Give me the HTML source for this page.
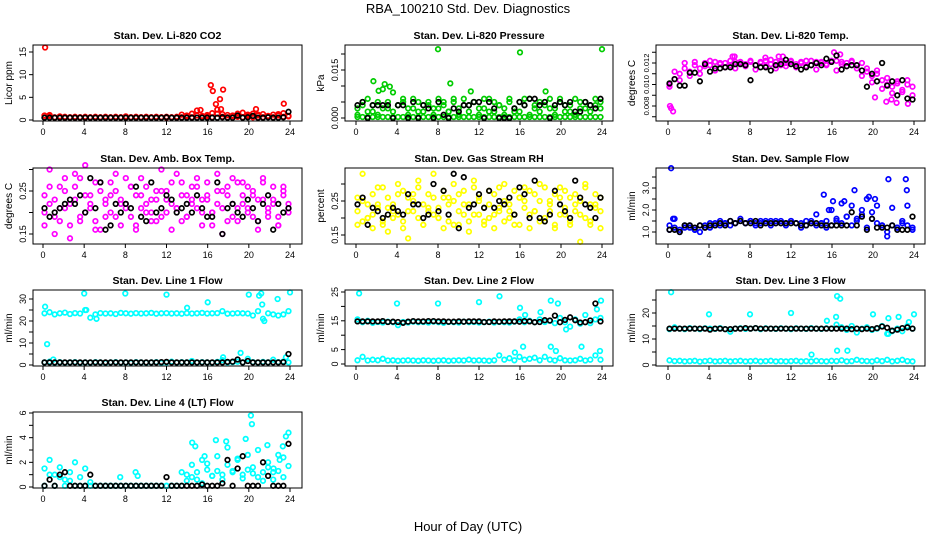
<!DOCTYPE html>
<html><head><meta charset="utf-8">
<style>
html,body{margin:0;padding:0;background:#fff;}
svg{display:block;font-family:"Liberation Sans",sans-serif;}
</style></head>
<body>
<svg id="chart" width="936" height="540" viewBox="0 0 936 540" xmlns="http://www.w3.org/2000/svg">
<rect x="0" y="0" width="936" height="540" fill="#fff"/>
<text x="468" y="13" text-anchor="middle" font-size="13">RBA_100210  Std. Dev. Diagnostics</text>
<text x="468" y="531" text-anchor="middle" font-size="13">Hour of Day (UTC)</text>
</svg>
<script>
// ---- data ----
const xTicks = [0,4,8,12,16,20,24];

// P1 CO2
const co2Red = [1.0,0.9,0.6,0.8,0.7,0.6,0.7,0.6,0.7,0.6,0.7,0.6,0.7,0.6,0.7,0.6,0.8,0.6,0.7,0.6,0.7,0.6,0.7,0.6,0.7,0.6,0.7,0.6,1.0,1.4,2.1,0.9,1.1,1.5,2.3,1.3,1.1,0.9,1.4,1.6,1.2,1.4,1.0,1.3,0.8,1.2,1.0,1.5,0.9];
const co2RedB = [0.6,1.1,0.5,0.6,0.5,0.6,0.5,0.6,0.5,0.6,0.5,0.6,0.5,0.6,0.5,0.6,0.5,0.6,0.5,0.6,0.5,0.6,0.5,0.6,0.5,0.6,0.5,1.2,0.7,0.6,1.0,0.6,0.8,0.6,1.4,0.7,0.6,1.0,0.7,0.6,0.9,0.6,1.2,0.6,0.9,0.6,1.3,0.7,0.8];
const co2OutH = [0.2,16.3,16.5,16.8,17.2,17.5,17.3,20.7,23.4,15.3];
const co2OutV = [16,7.7,6.4,3.5,4.6,6.7,2.4,2.4,3.6,2.2];
const co2Black = [0.5,0.5,0.5,0.5,0.5,0.5,0.5,0.5,0.5,0.5,0.5,0.5,0.5,0.5,0.5,0.5,0.5,0.5,0.5,0.5,0.5,0.5,0.5,0.5,0.6,0.5,0.5,0.5,0.5,0.5,0.5,0.5,0.5,0.5,0.5,0.6,0.5,0.5,1.0,0.5,0.6,0.9,0.5,0.5,0.6,0.5,0.5,0.6,1.8];

// P2 pressure
const presGreen = [0.003,0.004,0.006,0.002,0.005,0.009,0.003,0.008,0.004,0.005,0.003,0.006,0.002,0.004,0.005,0.003,0.006,0.004,0.002,0.005,0.003,0.006,0.004,0.005,0.003,0.006,0.002,0.005,0.004,0.003,0.006,0.002,0.005,0.004,0.006,0.003,0.005,0.004,0.006,0.003,0.005,0.004,0.002,0.006,0.003,0.005,0.004,0.006,0.003];
const presGreenB = [0.0003,0.0003,0.0003,0.0003,0.0003,0.0003,0.0003,0.0003,0.0003,0.0003,0.0003,0.0003,0.0003,0.0003,0.0003,0.0003,0.0003,0.0003,0.0003,0.0003,0.0003,0.0003,0.0003,0.0003,0.0003,0.0003,0.0003,0.0003,0.0003,0.0003,0.0003,0.0003,0.0003,0.0003,0.0003,0.0003,0.0003,0.0003,0.0003,0.0003,0.0003,0.0003,0.0003,0.0003,0.0003,0.0003,0.0003,0.0003,0.0003];
const presGreenC = [0.001,0.005,0.002,0.004,0.001,0.003,0.005,0.002,0.004,0.006,0.001,0.003,0.005,0.002,0.004,0.001,0.003,0.005,0.002,0.006,0.001,0.004,0.002,0.005,0.001,0.003,0.006,0.002,0.004,0.001,0.005,0.003,0.002,0.006,0.001,0.004,0.002,0.005,0.003,0.001,0.006,0.002,0.004,0.001,0.005,0.003,0.002,0.004,0.005];
const presOutH = [8,16,24,1.7,2.8,3.3,9.2,2.2,11.2,18.5];
const presOutV = [0.0215,0.0205,0.0215,0.0115,0.0106,0.0098,0.0108,0.0085,0.0083,0.0083];
const presBlack = [0.004,0.005,0.0,0.004,0.004,0.004,0.004,0.0,0.004,0.004,0.0,0.005,0.0,0.004,0.003,0.0,0.005,0.001,0.0,0.003,0.002,0.004,0.004,0.005,0.005,0.0,0.005,0.003,0.0,0.0,0.0,0.003,0.005,0.004,0.006,0.006,0.004,0.005,0.0,0.004,0.005,0.004,0.005,0.002,0.002,0.005,0.004,0.003,0.006];

// P3 temp
const tempMag = [0.0100,0.0105,0.0110,0.0115,0.0112,0.0118,0.0115,0.0120,0.0118,0.0121,0.0119,0.0120,0.0118,0.0121,0.0120,0.0119,0.0121,0.0118,0.0120,0.0122,0.0119,0.0121,0.0118,0.0120,0.0121,0.0119,0.0120,0.0122,0.0118,0.0121,0.0120,0.0119,0.0121,0.0122,0.0119,0.0120,0.0121,0.0118,0.0120,0.0112,0.0108,0.0110,0.0104,0.0100,0.0098,0.0103,0.0095,0.0100,0.0098];
const tempMagB = [0.0098,0.0112,0.0104,0.0120,0.0108,0.0121,0.0110,0.0117,0.0122,0.0113,0.0120,0.0116,0.0122,0.0115,0.0121,0.0117,0.0122,0.0114,0.0121,0.0117,0.0123,0.0115,0.0121,0.0117,0.0122,0.0116,0.0121,0.0117,0.0122,0.0114,0.0121,0.0118,0.0122,0.0113,0.0121,0.0117,0.0122,0.0115,0.0108,0.0115,0.0102,0.0113,0.0096,0.0106,0.0092,0.0101,0.0093,0.0104,0.0090];
const tempOutH = [0.2,0.3,0.5,6.3,6.5,9.5,10.8,11.2,16.2,16.8,21.3,22.3,20.2,23.4,21.8];
const tempOutV = [0.0080,0.0078,0.0075,0.0126,0.0126,0.0125,0.0126,0.0126,0.0130,0.0128,0.0084,0.0083,0.0088,0.0082,0.0086];
const tempBlack = [0.0101,0.0105,0.0099,0.0099,0.0111,0.0111,0.0103,0.0119,0.0112,0.0115,0.0115,0.0116,0.0116,0.0119,0.0119,0.0118,0.0104,0.0118,0.0116,0.0116,0.0113,0.0118,0.0119,0.0123,0.0119,0.0117,0.0114,0.0116,0.0118,0.0120,0.0118,0.0124,0.0121,0.0127,0.0114,0.0117,0.0118,0.0118,0.0113,0.0098,0.0110,0.0103,0.0120,0.0099,0.0103,0.0090,0.0104,0.0087,0.0086];

// P4 ambient box temp
const ambMag = [0.24,0.22,0.19,0.26,0.21,0.17,0.23,0.28,0.20,0.24,0.18,0.25,0.22,0.27,0.19,0.23,0.21,0.26,0.17,0.24,0.22,0.20,0.25,0.19,0.23,0.27,0.21,0.18,0.24,0.22,0.26,0.20,0.23,0.17,0.25,0.21,0.24,0.19,0.27,0.22,0.20,0.25,0.18,0.23,0.21,0.26,0.19,0.24,0.22];
const ambMagB = [0.20,0.26,0.23,0.18,0.25,0.22,0.29,0.19,0.24,0.21,0.27,0.16,0.23,0.20,0.25,0.22,0.28,0.19,0.24,0.21,0.26,0.18,0.23,0.25,0.20,0.22,0.29,0.24,0.19,0.26,0.21,0.23,0.27,0.20,0.22,0.25,0.18,0.28,0.21,0.24,0.26,0.19,0.23,0.27,0.20,0.22,0.17,0.25,0.21];
const ambMagC = [0.17,0.30,0.15,0.21,0.28,0.14,0.26,0.18,0.31,0.22,0.16,0.27,0.19,0.24,0.29,0.17,0.22,0.26,0.16,0.28,0.20,0.23,0.18,0.30,0.25,0.16,0.21,0.27,0.19,0.23,0.28,0.17,0.24,0.20,0.29,0.15,0.26,0.22,0.18,0.27,0.21,0.24,0.16,0.28,0.19,0.23,0.17,0.26,0.20];
const ambBlack = [0.21,0.19,0.20,0.21,0.22,0.23,0.22,0.24,0.20,0.28,0.21,0.27,0.16,0.17,0.22,0.20,0.22,0.21,0.26,0.19,0.18,0.27,0.20,0.21,0.24,0.23,0.20,0.21,0.22,0.20,0.24,0.21,0.19,0.19,0.27,0.15,0.21,0.22,0.20,0.19,0.23,0.21,0.18,0.22,0.24,0.16,0.22,0.20,0.21];

// P5 gas stream RH
const rhYel = [0.22,0.25,0.20,0.27,0.23,0.19,0.26,0.24,0.21,0.28,0.22,0.25,0.20,0.24,0.27,0.21,0.23,0.26,0.19,0.25,0.22,0.28,0.24,0.21,0.26,0.23,0.20,0.27,0.22,0.25,0.24,0.21,0.26,0.23,0.28,0.22,0.25,0.20,0.24,0.27,0.21,0.23,0.26,0.22,0.25,0.20,0.24,0.27,0.22];
const rhYelB = [0.26,0.19,0.24,0.21,0.29,0.18,0.23,0.20,0.27,0.17,0.26,0.22,0.29,0.18,0.23,0.26,0.20,0.28,0.24,0.18,0.27,0.21,0.19,0.29,0.25,0.18,0.24,0.21,0.29,0.19,0.22,0.28,0.18,0.25,0.21,0.27,0.19,0.29,0.22,0.18,0.26,0.28,0.19,0.24,0.21,0.29,0.18,0.23,0.26];
const rhYelC = [0.18,0.33,0.20,0.17,0.24,0.29,0.16,0.22,0.30,0.19,0.14,0.27,0.31,0.18,0.22,0.33,0.20,0.17,0.26,0.30,0.18,0.24,0.16,0.31,0.21,0.19,0.28,0.17,0.23,0.30,0.20,0.18,0.26,0.29,0.17,0.22,0.30,0.19,0.25,0.17,0.29,0.21,0.18,0.27,0.13,0.30,0.19,0.24,0.17];
const rhBlack = [0.24,0.26,0.18,0.23,0.22,0.20,0.21,0.23,0.22,0.21,0.27,0.24,0.24,0.20,0.21,0.30,0.22,0.28,0.21,0.33,0.17,0.32,0.23,0.24,0.27,0.23,0.28,0.23,0.25,0.24,0.26,0.21,0.29,0.27,0.20,0.31,0.20,0.19,0.21,0.28,0.24,0.22,0.20,0.31,0.26,0.24,0.23,0.20,0.26];

// P6 sample flow
const sfBlue = [1.3,1.2,1.1,1.3,1.2,1.1,1.3,1.2,1.4,1.3,1.5,1.4,1.5,1.4,1.5,1.4,1.5,1.4,1.5,1.4,1.5,1.4,1.5,1.4,1.5,1.4,1.4,1.5,1.4,1.3,1.4,1.5,1.3,1.6,1.4,1.7,1.3,1.5,1.8,1.2,1.6,1.4,1.3,1.0,1.3,1.2,1.4,1.3,1.2];
const sfBlueB = [1.1,1.6,1.0,1.2,1.3,1.1,1.0,1.3,1.2,1.4,1.3,1.4,1.3,1.4,1.6,1.4,1.5,1.3,1.4,1.5,1.3,1.5,1.4,1.3,1.5,1.4,1.2,1.3,1.5,1.8,1.4,1.2,2.0,1.5,2.3,1.7,2.2,1.6,2.0,2.5,1.9,2.2,1.3,0.8,2.1,1.2,1.5,2.2,1.1];
const sfOutH = [0.3,21.5,23.2,15.2,18.2,23.3,16.1,17.2,19.6,20.2,0.5,15.7];
const sfOutV = [3.9,3.4,3.4,2.7,2.9,2.9,2.4,2.4,2.6,2.5,1.6,2.0];
const sfBlack = [1.1,1.1,1.0,1.3,1.3,1.2,1.3,1.2,1.3,1.3,1.4,1.3,1.5,1.4,1.5,1.4,1.4,1.5,1.3,1.4,1.4,1.4,1.4,1.4,1.4,1.4,1.3,1.3,1.4,1.4,1.3,1.3,1.3,1.3,1.3,1.3,1.9,1.3,1.7,1.1,1.6,1.2,1.2,1.2,1.3,1.1,1.1,1.1,1.7];

// P7 line 1 flow
const l1Top = [23.5,24.0,23.0,23.5,23.8,23.2,23.6,23.4,25.0,21.5,23.0,23.6,23.4,23.5,23.2,23.7,23.5,23.3,23.6,23.4,23.5,23.7,23.3,23.5,23.6,23.4,23.5,23.3,23.6,23.4,23.5,23.7,23.4,23.5,23.6,24.5,23.3,23.4,23.6,23.5,23.4,22.5,24.5,21.0,23.5,23.0,22.5,23.0,24.5];
const l1Bot = [1.2,1.5,1.0,1.3,1.1,1.2,1.3,1.0,1.2,1.1,1.3,1.2,1.0,1.2,1.3,1.1,1.2,1.0,1.3,1.2,1.1,1.2,1.3,1.0,1.2,1.5,1.1,1.3,1.2,1.8,1.1,1.3,1.2,1.1,1.4,2.2,1.2,1.3,1.5,1.2,2.8,1.3,1.1,1.4,1.2,2.4,1.3,1.6,1.2];
const l1OutH = [0.2,0.4,4,8,12,14,16,20,21,21.2,22.8,24,21.3,21.5,4.2,19.2,17.5,23.6,5.2,1.0];
const l1OutV = [26.5,9.5,32.5,32.5,32,26,28.5,32,31.5,32.5,30,33,27.5,20,25,5.5,3.5,3.5,21,2.5];
const l1Black = [1.2,1.2,1.2,1.2,1.2,1.2,1.2,1.2,1.2,1.2,1.2,1.2,1.2,1.2,1.2,1.2,1.2,1.2,1.2,1.2,1.2,1.2,1.2,1.3,1.4,1.2,1.2,1.2,1.2,1.2,1.2,1.2,1.2,1.2,1.2,1.2,1.4,1.5,2.5,1.2,1.8,1.2,1.2,1.2,1.2,1.2,1.2,1.3,5.0];

// P8 line 2 flow
const l2Top = [15.5,14.5,15.0,14.3,14.6,14.4,14.7,14.5,13.5,14.6,14.4,14.7,14.5,14.6,14.4,14.7,14.5,14.3,14.6,14.5,14.4,14.7,14.5,14.6,14.4,14.5,14.7,14.4,14.6,14.5,14.4,14.7,15.5,14.5,15.0,14.5,15.5,14.6,15.0,14.2,16.0,14.5,13.0,15.5,14.0,17.0,14.2,15.5,16.0];
const l2Bot = [1.3,2.5,1.2,1.5,1.3,1.8,1.2,1.3,1.1,1.2,1.3,1.2,1.1,1.3,1.2,1.1,1.2,1.3,1.1,1.2,1.3,1.2,1.5,1.2,1.3,1.2,1.1,1.3,3.0,1.5,2.0,1.3,2.5,1.5,1.8,2.2,1.3,2.5,1.5,1.2,2.0,1.3,1.2,1.3,1.8,1.2,1.5,3.0,1.5];
const l2OutH = [0.3,4,8,12,14,16,19,19.7,23.9,16.3,19,22,19.5,15.5,20.5,18.0,23.5,16.5,23.8];
const l2OutV = [24.5,21,21,21.5,23.5,19.5,22,21,22,6,6,6,4.5,4,12,18,19,17,4.5];
const l2Black = [14.8,14.8,14.8,14.8,14.8,14.9,14.6,14.7,14.6,14.3,14.7,14.9,14.8,14.8,14.9,14.9,14.8,14.8,14.7,14.7,14.8,14.7,14.8,14.8,14.8,14.6,14.6,14.8,14.7,14.8,14.8,14.8,14.7,14.9,14.8,14.5,14.6,15.2,15.1,16.8,14.5,15.3,16.2,15.2,14.4,14.5,15.1,21.0,14.8];

// P9 line 3 flow
const l3Top = [13.8,14.5,14.0,13.8,14.2,14.0,13.8,14.1,14.0,13.9,14.2,13.8,12.8,14.0,14.1,13.9,14.0,14.2,13.8,14.1,14.0,13.9,14.1,14.0,13.8,14.1,14.0,13.9,14.2,14.0,13.9,14.1,14.0,15.5,14.5,13.5,15.0,12.5,14.0,14.5,13.5,14.0,15.0,12.0,13.0,14.0,13.0,15.0,14.0];
const l3Bot = [1.8,1.5,1.6,1.4,1.5,1.6,1.3,1.5,1.7,1.4,1.5,1.6,1.4,1.5,1.6,1.4,1.5,1.6,1.4,1.5,1.6,1.4,1.5,1.4,1.5,1.6,1.4,1.5,1.4,1.6,1.5,1.4,1.6,1.5,1.8,1.4,1.5,2.0,1.6,1.5,1.4,1.8,1.5,2.0,1.4,1.6,2.0,1.5,1.4];
const l3OutH = [0.3,4,8,12,16.5,16.8,16.4,20,22.5,24,16.5,17.5,14,21.5,15.5,21.5,23.5];
const l3OutV = [28,19.5,19.5,20,26.5,25.5,18.5,19.5,18.5,19.5,5.5,5.5,4,18,17,12,16.5];
const l3Black = [14.0,14.0,14.0,14.0,14.0,14.0,14.0,14.0,13.6,14.0,14.0,13.8,13.8,14.0,14.0,14.2,14.0,14.2,14.0,14.0,14.0,14.0,14.0,14.0,14.0,14.0,14.0,14.0,14.0,14.0,14.0,14.0,14.0,14.0,14.0,14.0,13.8,14.0,13.8,14.0,13.8,14.2,14.8,14.3,13.2,13.6,14.2,14.5,14.0];

// P10 line 4 flow
const l4Cyan = [1.5,2.2,1.0,1.6,0.6,1.2,2.0,0.8,1.5,0.4,0.1,0.1,0.1,0.1,0.1,0.1,0.1,0.1,0.1,0.1,0.1,0.1,0.1,0.1,0.1,0.1,0.1,1.2,1.0,1.8,0.6,2.2,1.4,0.9,2.5,1.0,1.8,1.3,2.2,1.0,2.6,1.6,0.8,1.2,2.0,0.6,1.3,2.4,1.7];
const l4CyanB = [0.1,1.0,0.1,0.8,0.1,0.5,0.1,0.1,0.1,0.1,0.1,0.1,0.1,0.1,0.1,0.1,0.1,0.1,0.1,0.1,0.1,0.1,0.1,0.1,0.1,0.1,0.1,0.1,0.5,0.8,1.2,0.3,1.9,0.9,1.3,0.6,3.2,1.2,2.3,0.7,1.4,1.1,3.0,0.5,1.6,1.2,2.6,0.8,4.4];
const l4OutH = [9.0,9.2,7.5,17.8,15.7,16.8,20.2,20.3,14.5,21.8,23.3,23.6,14.8,19.7,22.4,23.0];
const l4OutV = [1.2,0.9,0.8,3.7,2.5,3.8,5.8,5.1,3.6,3.4,3.3,4.1,3.3,3.9,1.5,2.2];
const l4Black = [0.1,0.6,0.1,1.0,1.2,0.1,0.1,0.1,0.1,1.0,0.1,0.1,0.1,0.1,0.1,0.1,0.1,0.1,0.1,0.1,0.1,0.1,0.1,0.1,0.8,0.1,0.1,0.1,0.1,0.1,0.1,0.2,0.1,0.1,0.1,0.3,2.2,0.1,1.5,2.5,0.1,0.1,0.1,2.0,0.9,0.1,0.1,0.1,3.5];

// ---- tick arrays ----
const p1Ticks=[0,5,10,15], p1Labels=["0","5","10","15"];
const p2Ticks=[0,0.005,0.01,0.015,0.02], p2Labels=["0.000","","","0.015",""];
const p3Ticks=[0.007,0.008,0.009,0.010,0.011,0.012,0.013], p3Labels=["","0.008","","0.010","","0.012",""];
const p4Ticks=[0.15,0.20,0.25,0.30], p4Labels=["0.15","","0.25",""];
const p5Ticks=[0.15,0.20,0.25,0.30], p5Labels=["0.15","","0.25",""];
const p6Ticks=[1.0,1.5,2.0,2.5,3.0,3.5], p6Labels=["1.0","","2.0","","3.0",""];
const p7Ticks=[0,5,10,15,20,25,30], p7Labels=["0","","10","","20","","30"];
const p8Ticks=[0,5,10,15,20,25], p8Labels=["0","5","","15","","25"];
const p9Ticks=[0,5,10,15,20,25], p9Labels=["0","","10","","20",""];
const p10Ticks=[0,1,2,3,4,5,6], p10Labels=["0","","2","","4","","6"];

// ---- layout ----
const NS="http://www.w3.org/2000/svg";
const svg=document.getElementById('chart');
const cols=[{l:33,r:302,x0:43,x24:290},{l:345,r:613,x0:356,x24:602},{l:656,r:925,x0:668,x24:914}];
const rows=[45,168,290,412];
const BOXH=76;

function mk(tag,attrs,parent){const e=document.createElementNS(NS,tag);for(const k in attrs)e.setAttribute(k,attrs[k]);(parent||svg).appendChild(e);return e;}

function drawPanel(o){
  const c=cols[o.col], top=rows[o.row], bot=top+BOXH;
  const g=mk('g',{});
  
  
  const xs=h=>c.x0+(h/24)*(c.x24-c.x0);
  const ys=v=>o.p0+(v-o.v0)*(o.p1-o.p0)/(o.v1-o.v0);
  const t=mk('text',{x:(c.l+c.r)/2,y:top-6,'text-anchor':'middle','font-size':10.5,'font-weight':'bold'},g);
  t.textContent=o.title;
  
  
  const yt=mk('text',{x:0,y:0,'text-anchor':'middle','font-size':10,transform:`translate(${c.l-21},${top+BOXH/2}) rotate(-90)`},g);
  yt.textContent=o.ylab;
  
  
  xTicks.forEach(h=>{
    const x=xs(h);
    mk('line',{x1:x,y1:bot,x2:x,y2:bot+4,stroke:'#000','stroke-width':1},g);
    const tx=mk('text',{x:x,y:bot+14,'text-anchor':'middle','font-size':9},g);
    tx.textContent=String(h);
    
    
  });
  o.ticks.forEach((v,i)=>{
    const y=ys(v);
    mk('line',{x1:c.l-4,y1:y,x2:c.l,y2:y,stroke:'#000','stroke-width':1},g);
    if(o.labels[i]){
      const ty=mk('text',{x:0,y:0,'text-anchor':'middle','font-size':o.tfs||9,transform:`translate(${c.l-7},${y}) rotate(-90)`},g);
      ty.textContent=o.labels[i];
      
      
    }
  });
  const pts=mk('g',{fill:'none','stroke-width':1.7},g);
  function series(vals,color,hours){
    const n=vals.length;
    vals.forEach((v,i)=>{
      const h=hours?hours[i]:(0.15+i*23.7/(n-1));
      const p=mk('circle',{cx:xs(h).toFixed(1),cy:ys(v).toFixed(1),r:2.3,stroke:color},pts);
      
      
    });
  }
  o.color.forEach(s=>series(s,o.clr));
  if(o.outH) series(o.outV,o.clr,o.outH);
  series(o.black,'#000');
  const box=mk('rect',{x:c.l,y:top,width:c.r-c.l,height:BOXH,fill:'none',stroke:'#000','stroke-width':1},g);
  
  
}

drawPanel({name:'panel-co2',title:'Stan. Dev. Li-820 CO2',ylab:'Licor ppm',col:0,row:0,v0:0,p0:120,v1:15,p1:52,ticks:p1Ticks,labels:p1Labels,clr:'#ff0000',color:[co2Red,co2RedB],outH:co2OutH,outV:co2OutV,black:co2Black});
drawPanel({name:'panel-pressure',title:'Stan. Dev. Li-820 Pressure',ylab:'kPa',col:1,row:0,v0:0,p0:118,v1:0.015,p1:70,ticks:p2Ticks,labels:p2Labels,clr:'#00cc00',color:[presGreen,presGreenB,presGreenC],outH:presOutH,outV:presOutV,black:presBlack});
drawPanel({name:'panel-li820-temp',title:'Stan. Dev. Li-820 Temp.',ylab:'degrees C',col:2,row:0,v0:0.008,p0:106,v1:0.012,p1:63,ticks:p3Ticks,labels:p3Labels,tfs:7.5,clr:'#ff00ff',color:[tempMag,tempMagB],outH:tempOutH,outV:tempOutV,black:tempBlack});
drawPanel({name:'panel-amb-box-temp',title:'Stan. Dev. Amb. Box Temp.',ylab:'degrees C',col:0,row:1,v0:0.15,p0:234,v1:0.25,p1:191,ticks:p4Ticks,labels:p4Labels,clr:'#ff00ff',color:[ambMag,ambMagB,ambMagC],black:ambBlack});
drawPanel({name:'panel-gas-rh',title:'Stan. Dev. Gas Stream RH',ylab:'percent',col:1,row:1,v0:0.15,p0:235,v1:0.25,p1:201,ticks:p5Ticks,labels:p5Labels,clr:'#ffff00',color:[rhYel,rhYelB,rhYelC],black:rhBlack});
drawPanel({name:'panel-sample-flow',title:'Stan. Dev. Sample Flow',ylab:'ml/min',col:2,row:1,v0:1.0,p0:232,v1:3.0,p1:188,ticks:p6Ticks,labels:p6Labels,clr:'#0000ff',color:[sfBlue,sfBlueB],outH:sfOutH,outV:sfOutV,black:sfBlack});
drawPanel({name:'panel-line1-flow',title:'Stan. Dev. Line 1 Flow',ylab:'ml/min',col:0,row:2,v0:0,p0:365,v1:30,p1:299,ticks:p7Ticks,labels:p7Labels,clr:'#00ffff',color:[l1Top,l1Bot],outH:l1OutH,outV:l1OutV,black:l1Black});
drawPanel({name:'panel-line2-flow',title:'Stan. Dev. Line 2 Flow',ylab:'ml/min',col:1,row:2,v0:0,p0:364,v1:25,p1:292,ticks:p8Ticks,labels:p8Labels,clr:'#00ffff',color:[l2Top,l2Bot],outH:l2OutH,outV:l2OutV,black:l2Black});
drawPanel({name:'panel-line3-flow',title:'Stan. Dev. Line 3 Flow',ylab:'ml/min',col:2,row:2,v0:0,p0:365,v1:20,p1:313,ticks:p9Ticks,labels:p9Labels,clr:'#00ffff',color:[l3Top,l3Bot],outH:l3OutH,outV:l3OutV,black:l3Black});
drawPanel({name:'panel-line4-flow',title:'Stan. Dev. Line 4 (LT) Flow',ylab:'ml/min',col:0,row:3,v0:0,p0:487,v1:6,p1:413,ticks:p10Ticks,labels:p10Labels,clr:'#00ffff',color:[l4Cyan,l4CyanB],outH:l4OutH,outV:l4OutV,black:l4Black});
</script>
</body></html>
